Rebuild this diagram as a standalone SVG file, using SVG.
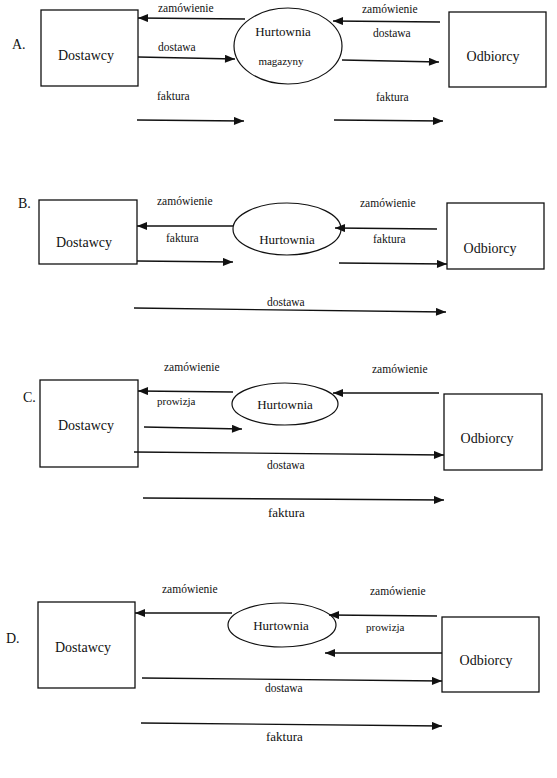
<svg xmlns="http://www.w3.org/2000/svg" width="557" height="778" viewBox="0 0 557 778" font-family="'Liberation Serif', 'DejaVu Serif', serif">
<defs>
<marker id="ah" viewBox="0 0 10 8" refX="10" refY="4" markerWidth="11" markerHeight="8" orient="auto" markerUnits="userSpaceOnUse">
<path d="M0,0 L10,4 L0,8 z" fill="#111"/>
</marker>
<style>
.box{fill:#fff;stroke:#111;stroke-width:1.3}
.ell{fill:#fff;stroke:#111;stroke-width:1.2}
.ar{stroke:#111;stroke-width:1.3;fill:none;marker-end:url(#ah)}
text{font-family:'Liberation Serif','DejaVu Serif',serif;fill:#111}
.big{font-size:14px}
.mid{font-size:13px}
.sm{font-size:11.5px}
.xs{font-size:11px}
.c{text-anchor:middle}
</style>
</defs>
<rect width="557" height="778" fill="#fff"/>

<!-- Section A -->
<g id="labelA"><text class="big" x="12" y="49">A.</text></g>
<g id="A-dostawcy"><rect class="box" x="41" y="10" width="97" height="76"/><text class="big c" x="86" y="60">Dostawcy</text></g>
<g id="A-hurtownia"><ellipse class="ell" cx="288" cy="46" rx="54" ry="38"/><text class="mid c" x="283" y="36">Hurtownia</text><text class="xs c" x="281" y="65">magazyny</text></g>
<g id="A-odbiorcy"><rect class="box" x="449" y="12" width="97" height="75"/><text class="big c" x="493" y="61">Odbiorcy</text></g>

<!-- Section B -->
<g id="labelB"><text class="big" x="18" y="208">B.</text></g>
<g id="B-dostawcy"><rect class="box" x="39" y="200" width="98" height="64"/><text class="big c" x="84" y="247">Dostawcy</text></g>
<g id="B-hurtownia"><ellipse class="ell" cx="287" cy="229" rx="54" ry="26"/><text class="mid c" x="287" y="244">Hurtownia</text></g>
<g id="B-odbiorcy"><rect class="box" x="447" y="203" width="97" height="66"/><text class="big c" x="490" y="253">Odbiorcy</text></g>

<!-- Section C -->
<g id="labelC"><text class="big" x="23" y="402">C.</text></g>
<g id="C-dostawcy"><rect class="box" x="40" y="380" width="98" height="87"/><text class="big c" x="86" y="430">Dostawcy</text></g>
<g id="C-hurtownia"><ellipse class="ell" cx="285" cy="404" rx="53" ry="21"/><text class="mid c" x="285" y="409">Hurtownia</text></g>
<g id="C-odbiorcy"><rect class="box" x="444" y="394" width="98" height="76"/><text class="big c" x="487" y="443">Odbiorcy</text></g>

<!-- Section D -->
<g id="labelD"><text class="big" x="6" y="643">D.</text></g>
<g id="D-dostawcy"><rect class="box" x="38" y="602" width="97" height="86"/><text class="big c" x="83" y="652">Dostawcy</text></g>
<g id="D-hurtownia"><ellipse class="ell" cx="282" cy="625" rx="54" ry="22"/><text class="mid c" x="281" y="630">Hurtownia</text></g>
<g id="D-odbiorcy"><rect class="box" x="442" y="617" width="97" height="75"/><text class="big c" x="486" y="665">Odbiorcy</text></g>

<g id="connectors">
<!-- A -->
<line class="ar" x1="245" y1="19" x2="138" y2="18"/>
<line class="ar" x1="138" y1="57" x2="235" y2="59"/>
<line class="ar" x1="137" y1="120" x2="244" y2="121"/>
<line class="ar" x1="440" y1="22" x2="333" y2="21"/>
<line class="ar" x1="342" y1="60" x2="439" y2="62"/>
<line class="ar" x1="334" y1="120" x2="443" y2="121"/>
<!-- B -->
<line class="ar" x1="233" y1="226" x2="137" y2="226"/>
<line class="ar" x1="137" y1="261" x2="233" y2="262"/>
<line class="ar" x1="437" y1="229" x2="335" y2="228"/>
<line class="ar" x1="339" y1="263" x2="447" y2="264"/>
<line class="ar" x1="134" y1="308" x2="446" y2="312"/>
<!-- C -->
<line class="ar" x1="233" y1="392" x2="138" y2="391"/>
<line class="ar" x1="144" y1="427" x2="242" y2="429"/>
<line class="ar" x1="439" y1="393" x2="333" y2="393"/>
<line class="ar" x1="134" y1="452" x2="444" y2="455"/>
<line class="ar" x1="143" y1="498" x2="444" y2="500"/>
<!-- D -->
<line class="ar" x1="232" y1="613" x2="135" y2="613"/>
<line class="ar" x1="437" y1="616" x2="329" y2="615"/>
<line class="ar" x1="442" y1="653" x2="325" y2="653"/>
<line class="ar" x1="142" y1="678" x2="442" y2="681"/>
<line class="ar" x1="141" y1="723" x2="442" y2="726"/>
</g>

<g id="connector-labels">
<text class="sm" x="158" y="12">zamówienie</text>
<text class="sm" x="158" y="51">dostawa</text>
<text class="sm" x="157" y="100">faktura</text>
<text class="sm" x="362" y="13">zamówienie</text>
<text class="sm" x="373" y="37">dostawa</text>
<text class="sm" x="376" y="101">faktura</text>

<text class="sm" x="157" y="205">zamówienie</text>
<text class="sm" x="166" y="242">faktura</text>
<text class="sm" x="360" y="207">zamówienie</text>
<text class="sm" x="373" y="243">faktura</text>
<text class="sm" x="267" y="306">dostawa</text>

<text class="sm" x="164" y="371">zamówienie</text>
<text class="xs" x="157" y="405">prowizja</text>
<text class="sm" x="372" y="373">zamówienie</text>
<text class="sm" x="267" y="469">dostawa</text>
<text class="mid" x="268" y="517">faktura</text>

<text class="sm" x="162" y="593">zamówienie</text>
<text class="sm" x="370" y="595">zamówienie</text>
<text class="xs" x="366" y="631">prowizja</text>
<text class="sm" x="265" y="692">dostawa</text>
<text class="mid" x="266" y="741">faktura</text>
</g>
</svg>
